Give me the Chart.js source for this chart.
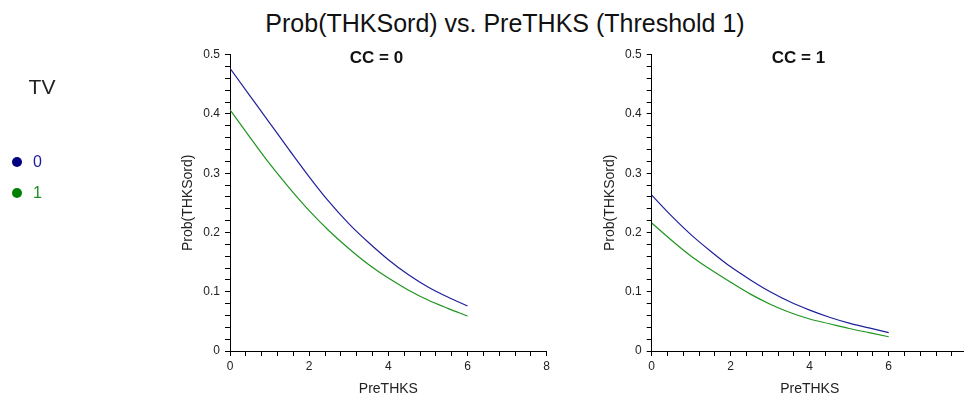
<!DOCTYPE html>
<html>
<head>
<meta charset="utf-8">
<script src="https://cdn.jsdelivr.net/npm/chart.js@4.4.1/dist/chart.umd.min.js"></script>
<style>
html, body { margin: 0; padding: 0; background: #fff; overflow: hidden; width: 964px; height: 398px; }
#mainTitle { position: absolute; left: 0; top: 8px; width: 1010px; text-align: center;
  font: 25px "Liberation Sans", Arial, sans-serif; color: #111; white-space: nowrap; line-height: 30px; }
#c0 { position: absolute; left: 0; top: 0; }
#c1 { position: absolute; left: 580px; top: 0; }
</style>
</head>
<body>
<div id="mainTitle">Prob(THKSord) vs. PreTHKS (Threshold 1)</div>
<canvas id="c0" width="600" height="398"></canvas>
<canvas id="c1" width="440" height="398"></canvas>
<script>
// ---- data ----
const preTHKS = [0, 0.5, 1, 1.5, 2, 2.5, 3, 3.5, 4, 4.5, 5, 5.5, 6];
const probCC0TV0 = [0.477, 0.431, 0.385, 0.339, 0.294, 0.252, 0.215, 0.183, 0.154, 0.129, 0.108, 0.091, 0.076];
const probCC0TV1 = [0.407, 0.361, 0.316, 0.275, 0.237, 0.203, 0.173, 0.146, 0.123, 0.103, 0.086, 0.072, 0.059];
const probCC1TV0 = [0.263, 0.228, 0.196, 0.168, 0.142, 0.120, 0.100, 0.083, 0.069, 0.057, 0.047, 0.039, 0.031];
const probCC1TV1 = [0.216, 0.187, 0.160, 0.137, 0.116, 0.096, 0.079, 0.065, 0.054, 0.046, 0.038, 0.031, 0.024];
const tvLevels = ['0', '1'];
const panelTitles = ['CC = 0', 'CC = 1'];
const legendTitle = 'TV';
const xAxisTitle = 'PreTHKS';
const yAxisTitle = 'Prob(THKSord)';
const xMajorTicks = [0, 2, 4, 6, 8];
const yMajorTicks = [0, 0.1, 0.2, 0.3, 0.4, 0.5];
const xMinorPerMajor = 5;   // minor tick every 0.4
const yMinorPerMajor = 5;   // minor tick every 0.02

const FONT = "'Liberation Sans', Arial, sans-serif";
Chart.defaults.font.family = FONT;

function buildTicks(majors, perMajor) {
  const out = [];
  for (let i = 0; i < majors.length; i++) {
    out.push(majors[i]);
    if (i < majors.length - 1) {
      const step = (majors[i + 1] - majors[i]) / perMajor;
      for (let k = 1; k < perMajor; k++) out.push(Math.round((majors[i] + k * step) * 1e6) / 1e6);
    }
  }
  return out;
}
const xTickValues = buildTicks(xMajorTicks, xMinorPerMajor);
const yTickValues = buildTicks(yMajorTicks, yMinorPerMajor);
function majorLabel(v, majors) {
  return majors.some(m => Math.abs(m - v) < 1e-6) ? String(+v.toFixed(2)) : '';
}

const lineColors = ['#20209a', '#1f951f'];
const dotColors = ['#000080', '#008000'];
const textColors = ['#1c1ca0', '#1f8f1f'];

const sideLegend = {
  id: 'sideLegend',
  afterDraw(chart) {
    const ctx = chart.ctx;
    ctx.save();
    ctx.textBaseline = 'middle';
    ctx.textAlign = 'center';
    ctx.fillStyle = '#222';
    ctx.font = '21px ' + FONT;
    ctx.fillText(legendTitle, 42, 88);
    chart.data.datasets.forEach((ds, i) => {
      const y = 162 + i * 31;
      ctx.beginPath();
      ctx.arc(17, y, 5, 0, Math.PI * 2);
      ctx.fillStyle = dotColors[i];
      ctx.fill();
      ctx.textAlign = 'left';
      ctx.font = '16px ' + FONT;
      ctx.fillStyle = textColors[i];
      ctx.fillText(ds.label, 33, y + 1);
    });
    ctx.restore();
  }
};

function makeChart(id, title, s0, s1, g, withLegend) {
  const toPts = arr => preTHKS.map((x, i) => ({ x: x, y: arr[i] }));
  return new Chart(document.getElementById(id), {
    type: 'line',
    data: {
      datasets: [
        { label: tvLevels[0], data: toPts(s0), borderColor: lineColors[0], borderWidth: 1.2, pointRadius: 0, cubicInterpolationMode: 'monotone', fill: false },
        { label: tvLevels[1], data: toPts(s1), borderColor: lineColors[1], borderWidth: 1.2, pointRadius: 0, cubicInterpolationMode: 'monotone', fill: false }
      ]
    },
    plugins: withLegend ? [sideLegend] : [],
    options: {
      responsive: false,
      animation: false,
      layout: { padding: { left: g.padL, right: g.padR, top: 0, bottom: 0 } },
      plugins: {
        legend: { display: false },
        tooltip: { enabled: false },
        title: {
          display: true, text: title, color: '#111',
          font: { family: FONT, size: 17, weight: 'bold', lineHeight: 1.2 },
          padding: { top: 48.3, bottom: -14 }
        }
      },
      scales: {
        x: {
          type: 'linear', position: 'bottom', min: 0, max: 8,
          afterBuildTicks: s => { s.ticks = xTickValues.map(v => ({ value: v })); },
          afterFit: s => { s.height = 47; },
          ticks: { autoSkip: false, maxRotation: 0, padding: 3, color: '#222', font: { size: 12 },
                   callback: v => majorLabel(v, xMajorTicks) },
          grid: { drawOnChartArea: false, tickLength: 5, tickColor: '#000', color: '#000' },
          border: { display: true, color: '#000', width: 1 },
          title: { display: true, text: xAxisTitle, color: '#222', font: { size: 14 }, padding: { top: 0, bottom: 0 } }
        },
        y: {
          type: 'linear', position: 'left', min: 0, max: 0.5,
          afterBuildTicks: s => { s.ticks = yTickValues.map(v => ({ value: v })); },
          afterFit: s => { s.width = 60; },
          ticks: { autoSkip: false, padding: 5, color: '#222', font: { size: 12 },
                   callback: v => majorLabel(v, yMajorTicks) },
          grid: { drawOnChartArea: false, tickLength: 5, tickColor: '#000', color: '#000' },
          border: { display: true, color: '#000', width: 1 },
          title: { display: true, text: yAxisTitle, color: '#222', font: { size: 14 }, padding: { top: 10, bottom: 0 } }
        },
        yr: {
          type: 'linear', position: 'right', min: 0, max: 1, display: true,
          afterFit: s => { s.width = g.wr; },
          ticks: { display: false },
          grid: { display: false, drawTicks: false },
          border: { display: false }
        }
      }
    }
  });
}

makeChart('c0', panelTitles[0], probCC0TV0, probCC0TV1, { padL: 170, padR: 17, wr: 36.3 }, true);
makeChart('c1', panelTitles[1], probCC1TV0, probCC1TV1, { padL: 11.7, padR: 14.7, wr: 37.6 }, false);
</script>
</body>
</html>
